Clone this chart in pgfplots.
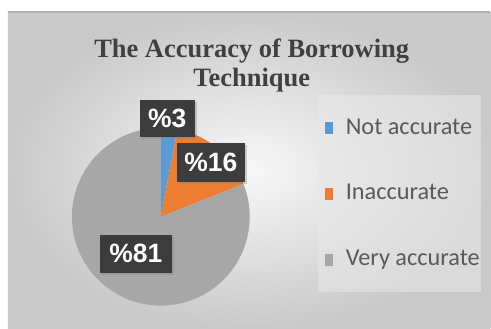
\documentclass[border=0pt]{standalone}
\usepackage{pgfplots}
\pgfplotsset{compat=1.18}
\usepackage{fontspec}
\setmainfont{Liberation Serif}
\newfontfamily\legfont{Carlito}
\newfontfamily\lblfont{Liberation Sans}
\usetikzlibrary{shadows}
\definecolor{pieblue}{HTML}{5B9BD5}
\definecolor{pieorange}{HTML}{ED7D31}
\definecolor{piegray}{HTML}{A7A7A7}
\definecolor{titlegray}{HTML}{404040}
\definecolor{boxdark}{HTML}{3C3C3C}
\definecolor{legtext}{HTML}{595959}
\def\vA{3}
\def\vB{16}
\def\vC{81}
\begin{document}
\begin{tikzpicture}
\pgfmathsetmacro{\aA}{90}
\pgfmathsetmacro{\aB}{90-3.6*\vA}
\pgfmathsetmacro{\aC}{\aB-3.6*\vB}
\pgfmathsetmacro{\aD}{\aC-3.6*\vC}
\begin{axis}[hide axis, scale only axis, width=491bp, height=329bp,
  xmin=0, xmax=491, ymin=0, ymax=329, clip=false]
% background
\fill[white] (axis cs:0,0) rectangle (axis cs:491,329);
\shade[inner color=black!3, outer color=black!21] (axis cs:8,0) rectangle (axis cs:491,317);
\draw[black!30, line width=1.2bp] (axis cs:8,317) -- (axis cs:491,317);
% legend box
\fill[black!9, opacity=0.55] (axis cs:318,37) rectangle (axis cs:482,234);
% pie
\addplot[fill=pieblue, draw=none, domain=\aB:\aA, samples=10, variable=\t]
  ({161+89*cos(t)}, {112+89*sin(t)}) -- (axis cs:161,112) -- cycle;
\addplot[fill=pieorange, draw=none, domain=\aC:\aB, samples=30, variable=\t]
  ({161+89*cos(t)}, {112+89*sin(t)}) -- (axis cs:161,112) -- cycle;
\addplot[fill=piegray, draw=none, domain=\aD:\aC, samples=120, variable=\t]
  ({161+89*cos(t)}, {112+89*sin(t)}) -- (axis cs:161,112) -- cycle;
% data labels
\tikzset{lbl/.style={fill=boxdark, text=white, inner sep=0pt, drop shadow={shadow xshift=2bp, shadow yshift=-2bp, opacity=0.35},
  font=\lblfont\bfseries\fontsize{26.5bp}{28bp}\selectfont}}
\node[lbl, minimum width=55bp, minimum height=37bp] at (axis cs:167.5,210.5) {\%3};
\node[lbl, minimum width=68bp, minimum height=39bp] at (axis cs:211,166.5) {\%16};
\node[lbl, minimum width=72bp, minimum height=38bp] at (axis cs:136,75) {\%81};
% title
\node[anchor=base, text=titlegray, font=\bfseries\fontsize{26.5bp}{29bp}\selectfont] at (axis cs:252,271) {The Accuracy of Borrowing};
\node[anchor=base, text=titlegray, font=\bfseries\fontsize{26.5bp}{29bp}\selectfont] at (axis cs:252,242) {Technique};
% legend
\fill[pieblue] (axis cs:325,195) rectangle (axis cs:333,207);
\fill[pieorange] (axis cs:325,129) rectangle (axis cs:333,141);
\fill[piegray] (axis cs:325,63) rectangle (axis cs:333,75);
\node[anchor=base west, inner sep=0pt, text=legtext, font=\legfont\fontsize{24.3bp}{26bp}\selectfont] at (axis cs:346,194) {Not accurate};
\node[anchor=base west, inner sep=0pt, text=legtext, font=\legfont\fontsize{24.3bp}{26bp}\selectfont] at (axis cs:346,129) {Inaccurate};
\node[anchor=base west, inner sep=0pt, text=legtext, font=\legfont\fontsize{24.3bp}{26bp}\selectfont] at (axis cs:346,63) {Very accurate};
\end{axis}
\end{tikzpicture}
\end{document}
